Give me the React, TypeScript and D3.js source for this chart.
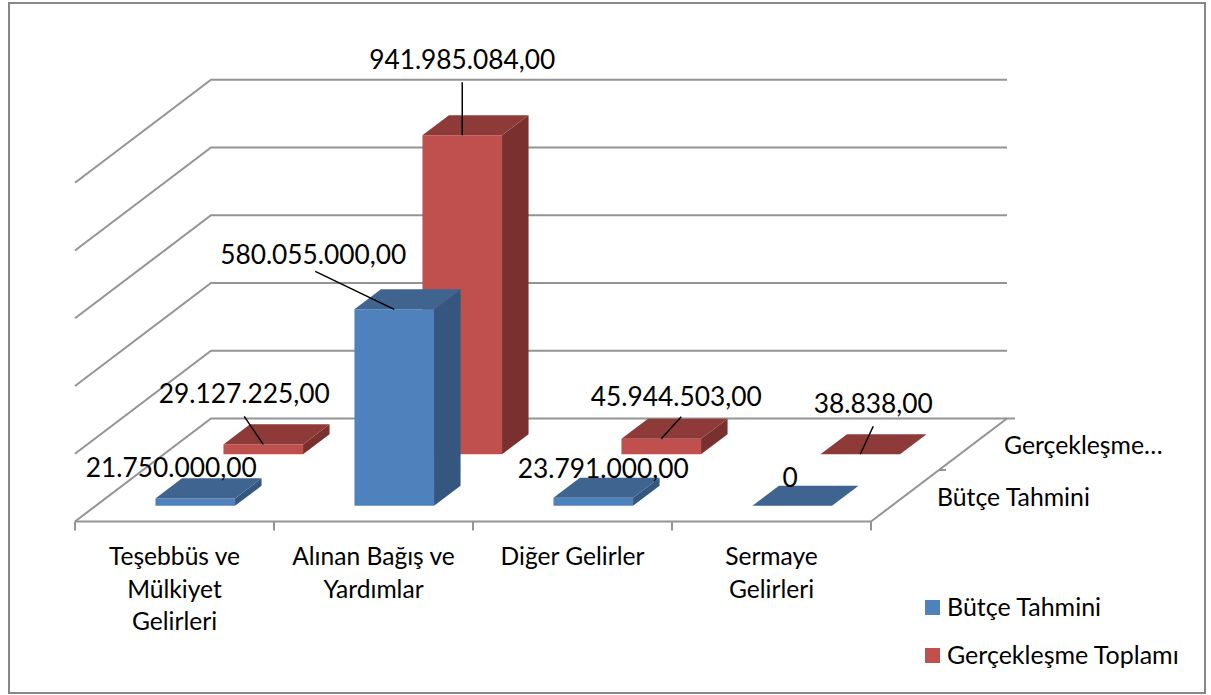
import React from "react";
import * as d3 from "d3";

const categories = ["Teşebbüs ve Mülkiyet Gelirleri", "Alınan Bağış ve Yardımlar", "Diğer Gelirler", "Sermaye Gelirleri"];
const categoryLines = [["Teşebbüs ve", "Mülkiyet", "Gelirleri"], ["Alınan Bağış ve", "Yardımlar"], ["Diğer Gelirler"], ["Sermaye", "Gelirleri"]];
const seriesNames = ["Bütçe Tahmini", "Gerçekleşme Toplamı"];
const depthLabels = ["Bütçe Tahmini", "Gerçekleşme…"];
const butceValues = [21750000, 580055000, 23791000, 0];
const gerceklesmeValues = [29127225, 941985084, 45944503, 38838];
const butceLabels = ["21.750.000,00", "580.055.000,00", "23.791.000,00", "0"];
const gerceklesmeLabels = ["29.127.225,00", "941.985.084,00", "45.944.503,00", "38.838,00"];
const valueTicks = [0, 200000000, 400000000, 600000000, 800000000, 1000000000];

// layout: [label dx, label dy (baseline), leader start dx, leader start dy, hasLeader] relative to bar's front-top centre
const butceLabelLayout = [
  [-24, -21, 0, 0, 0],
  [-81, -45, -79, -38, 1],
  [10, -20, 0, 0, 0],
  [-2, -19, 0, 0, 0],
];
const gerceklesmeLabelLayout = [
  [-19, -41, -19, -28, 1],
  [0, -66, 0, -53, 1],
  [15, -33, 20, -22, 1],
  [13, -41, 13, -28, 1],
];

const palette = [
  { front: "#4F81BD", top: "#3E648F", side: "#34567F" },
  { front: "#C0504D", top: "#8E3A38", side: "#7A302E" },
];
const gridColor = "#949494";
const FONT = "Lato, 'Noto Sans', sans-serif";

const x0 = 75, x1 = 871, floorY = 521.5, depthX = 136, depthY = 103, wallH = 338.7;
const xScale = d3.scaleBand<string>().domain(categories).range([x0, x1]);
const zScale = d3.scaleBand<string>().domain(seriesNames).range([0, 1]);
const hScale = d3.scaleLinear().domain([0, 1000000000]).range([0, wallH]);
const BAR_W = 0.4, BAR_D = 0.39;

const poly = (pts: [number, number][]) => (d3.line()(pts) as string) + "Z";

function bar(catI: number, serI: number, value: number) {
  const w = xScale.bandwidth() * BAR_W;
  const d = zScale.bandwidth() * BAR_D;
  const tc = (zScale(seriesNames[serI]) as number) + zScale.bandwidth() / 2;
  const t = tc - d / 2;
  const dx = d * depthX, dy = d * depthY;
  const left = (xScale(categories[catI]) as number) + xScale.bandwidth() / 2 - w / 2 + t * depthX;
  const base = floorY - t * depthY;
  const top = base - hScale(value);
  return { left, right: left + w, base, top, dx, dy };
}

export default function App() {
  const series = [
    { values: gerceklesmeValues, labels: gerceklesmeLabels, layout: gerceklesmeLabelLayout, idx: 1 },
    { values: butceValues, labels: butceLabels, layout: butceLabelLayout, idx: 0 },
  ];
  const backY = floorY - depthY;
  return (
    <svg width={1211} height={695} style={{ position: "absolute", left: 0, top: 0, background: "#fff" }}>
      <rect x={9} y={3} width={1196} height={690} fill="#fff" stroke="#878787" strokeWidth={2} />
      <g fill="none" stroke={gridColor} strokeWidth={2}>
        {valueTicks.map((v) => {
          const y = backY - hScale(v);
          return <path key={v} d={(d3.line()([[x0, y + depthY], [x0 + depthX, y], [x1 + depthX, y]]) as string)} />;
        })}
        <path d={d3.line()([[x0, floorY], [x1, floorY], [x1 + depthX, backY], [x1 + depthX + 8, backY]]) as string} />
        {d3.range(categories.length + 1).map((i) => {
          const x = x0 + (i * (x1 - x0)) / categories.length;
          return <line key={i} x1={x} x2={x} y1={floorY} y2={floorY + 9} />;
        })}
        <line x1={x1 + depthX / 2} x2={x1 + depthX / 2 + 7} y1={floorY - depthY / 2} y2={floorY - depthY / 2} />
      </g>
      {series.map((s) => (
        <g key={s.idx}>
          {s.values.map((v, i) => {
            const b = bar(i, s.idx, v);
            const c = palette[s.idx];
            return (
              <g key={i}>
                {v > 100000 && <path d={poly([[b.left, b.top], [b.right, b.top], [b.right, b.base], [b.left, b.base]])} fill={c.front} />}
                {v > 100000 && <path d={poly([[b.right, b.top], [b.right + b.dx, b.top - b.dy], [b.right + b.dx, b.base - b.dy], [b.right, b.base]])} fill={c.side} />}
                <path d={poly([[b.left, b.top], [b.right, b.top], [b.right + b.dx, b.top - b.dy], [b.left + b.dx, b.top - b.dy]])} fill={c.top} />
              </g>
            );
          })}
        </g>
      ))}
      {series.map((s) =>
        s.values.map((v, i) => {
          const b = bar(i, s.idx, v);
          const ax = (b.left + b.right) / 2;
          const [lx, ly, sx, sy, has] = s.layout[i];
          return (
            <g key={`${s.idx}-${i}`}>
              {has ? <line x1={ax + sx} y1={b.top + sy} x2={ax} y2={b.top} stroke="#000" strokeWidth={1.5} /> : null}
              <text x={ax + lx} y={b.top + ly} textAnchor="middle" fontFamily={FONT} fontSize={26.3} fill="#000">{s.labels[i]}</text>
            </g>
          );
        })
      )}
      <g fontFamily={FONT} fontSize={24.6} fill="#000" textAnchor="middle">
        {categoryLines.map((lines, i) => (
          <text key={i} x={(xScale(categories[i]) as number) + xScale.bandwidth() / 2} y={565}>
            {lines.map((l, j) => (
              <tspan key={j} x={(xScale(categories[i]) as number) + xScale.bandwidth() / 2} dy={j === 0 ? 0 : 32.5}>{l}</tspan>
            ))}
          </text>
        ))}
      </g>
      <g fontFamily={FONT} fontSize={24.8} fill="#000">
        <text x={937} y={505.5}>{depthLabels[0]}</text>
        <text x={1004} y={454}>{depthLabels[1]}</text>
      </g>
      <g fontFamily={FONT} fontSize={25} fill="#000">
        {seriesNames.map((n, i) => (
          <g key={n}>
            <rect x={925} y={600 + i * 48} width={15} height={15} fill={palette[i].front} />
            <text x={947} y={616 + i * 48}>{n}</text>
          </g>
        ))}
      </g>
    </svg>
  );
}
